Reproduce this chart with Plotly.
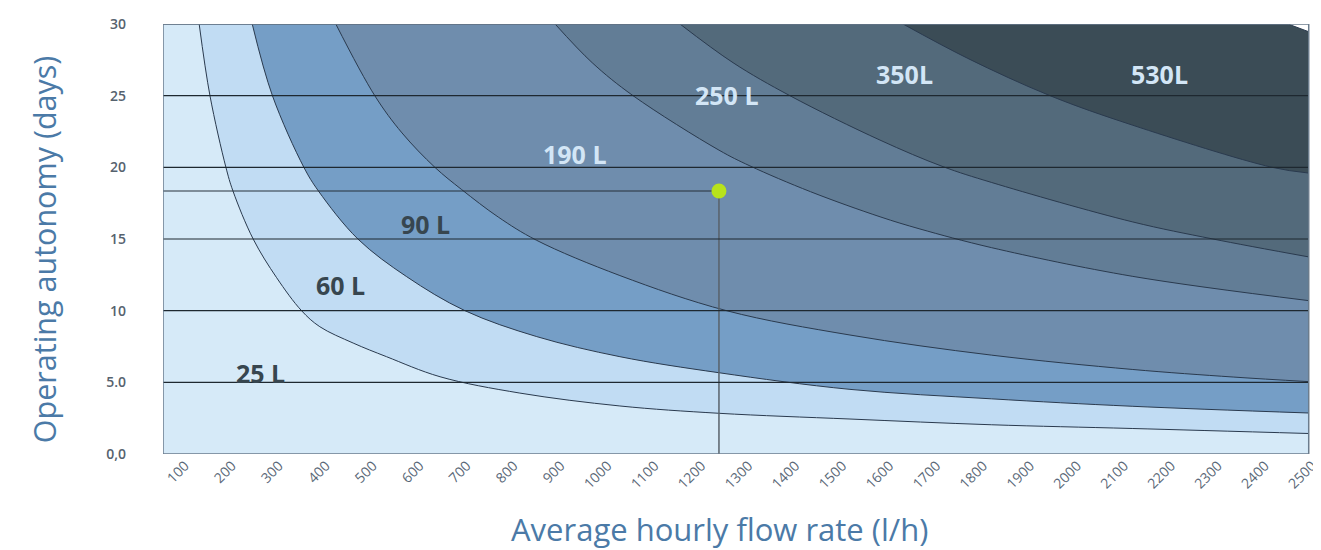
import plotly.graph_objects as go

# ---------------- data ----------------
X_MIN, X_END, X_AXIS_MAX = 36, 2476, 2500
Y_MAX = 30

x_ticks = [100, 200, 300, 400, 500, 600, 700, 800, 900, 1000, 1100, 1200, 1300,
           1400, 1500, 1600, 1700, 1800, 1900, 2000, 2100, 2200, 2300, 2400, 2500]
y_ticks = [0, 5, 10, 15, 20, 25, 30]
y_tick_text = ["0,0", "5.0", "10", "15", "20", "25", "30"]

flow_25 = [113, 136, 170, 185, 228, 278, 331, 370, 441, 512, 626, 796, 1009, 1220, 1499, 1800, 2100, 2476]
days_25 = [30, 25, 20, 18.35, 15, 12.3, 10, 8.88, 7.74, 6.79, 5.39, 4.25, 3.35, 2.84, 2.44, 2.04, 1.78, 1.43]

flow_60 = [226, 269, 336, 367, 451, 555, 679, 832, 1009, 1220, 1499, 1800, 2100, 2476]
days_60 = [30, 25, 20, 18.35, 15, 12.37, 10, 8.19, 6.79, 5.67, 4.51, 3.85, 3.33, 2.86]

flow_90 = [404, 487, 545, 615, 672, 750, 831, 1009, 1236, 1499, 1800, 2100, 2315, 2476]
days_90 = [30, 25, 22.4, 20, 18.45, 16.53, 14.92, 12.45, 10, 8.3, 6.9, 5.9, 5.37, 5.05]

flow_190 = [871, 950, 1037, 1220, 1286, 1415, 1563, 1648, 1800, 2100, 2476]
days_190 = [30, 27.3, 25, 21.2, 20.1, 18.3, 16.55, 15.7, 14.4, 12.4, 10.7]

flow_250 = [1137, 1250, 1371, 1563, 1697, 1800, 2100, 2272, 2476]
days_250 = [30, 27.3, 25, 21.9, 20.05, 18.95, 16.2, 15, 13.75]

flow_350 = [1612, 1750, 1925, 2100, 2398, 2476]
days_350 = [30, 27.6, 25, 22.95, 20, 19.6]

flow_530 = [2432, 2476]
days_530 = [30, 29.46]

point_flow = 1220
point_days = 18.35

labels = ["25 L", "60 L", "90 L", "190 L", "250 L", "350L", "530L"]
label_flow = [243, 413, 595, 913, 1238, 1615, 2159]
label_days = [5.65, 11.76, 16.07, 20.93, 25.05, 26.51, 26.51]
label_colors = ["#37464f", "#37464f", "#37464f", "#d3e6f6", "#d3e6f6", "#d3e6f6", "#d3e6f6"]

grid_values = [5, 10, 15, 20, 25]

# ---------------- styles ----------------
FONT = "Open Sans"
BODY_OFFSET = 8  # default page margin of the html body
curves = [
    (flow_530, days_530, "#3b4c56"),
    (flow_350, days_350, "#536a7b"),
    (flow_250, days_250, "#627d96"),
    (flow_190, days_190, "#6f8dad"),
    (flow_90, days_90, "#759ec6"),
    (flow_60, days_60, "#c1dcf3"),
    (flow_25, days_25, "#d6eaf8"),
]

fig = go.Figure()
for xs, ys, col in curves:
    # flat part along the top of the chart, then (after a gap) the curve itself
    fig.add_trace(go.Scatter(
        x=[X_MIN, xs[0], None] + xs, y=[Y_MAX, Y_MAX, None] + ys, mode="lines",
        line=dict(color="#2a3a4e", width=1, shape="spline", smoothing=1.0),
        fill="tozeroy", fillcolor=col, connectgaps=False,
        hoverinfo="skip", showlegend=False))

# reference lines to the point
fig.add_trace(go.Scatter(x=[X_MIN, point_flow], y=[point_days, point_days], mode="lines",
                         line=dict(color="#26303a", width=1.2), hoverinfo="skip", showlegend=False))
fig.add_trace(go.Scatter(x=[point_flow, point_flow], y=[point_days, 0], mode="lines",
                         line=dict(color="#59626b", width=1.5), hoverinfo="skip", showlegend=False))
fig.add_trace(go.Scatter(x=[point_flow], y=[point_days], mode="markers",
                         marker=dict(color="#b8e31b", size=15), hoverinfo="skip", showlegend=False))

shapes = []
for g in grid_values:
    shapes.append(dict(type="line", xref="x", yref="y", x0=X_MIN, x1=X_END, y0=g, y1=g,
                       line=dict(color="#1e2830", width=1.2), layer="above"))
shapes.append(dict(type="rect", xref="x", yref="y", x0=X_MIN, x1=X_END, y0=0, y1=Y_MAX,
                   line=dict(color="#6b7c8d", width=1.5), layer="above"))

annotations = []
for t, xv, yv, c in zip(labels, label_flow, label_days, label_colors):
    annotations.append(dict(x=xv, y=yv, xref="x", yref="y", text=t, showarrow=False,
                            font=dict(family=FONT, size=25, color=c, weight="bold"),
                            xanchor="center", yanchor="middle"))

annotations.append(dict(text="Average hourly flow rate (l/h)", xref="paper", yref="paper",
                        x=0.4806, y=-0.175, showarrow=False, xanchor="center", yanchor="middle",
                        font=dict(family=FONT, size=31, color="#4b7aa7")))
annotations.append(dict(text="Operating autonomy (days)", xref="paper", yref="paper",
                        x=-0.103, y=0.476, showarrow=False, xanchor="center", yanchor="middle",
                        textangle=-90, font=dict(family=FONT, size=30.5, color="#4b7aa7")))

fig.update_layout(
    width=1321 - BODY_OFFSET, height=550 - BODY_OFFSET,
    margin=dict(l=163 - BODY_OFFSET, r=1, t=24 - BODY_OFFSET, b=96),
    paper_bgcolor="white", plot_bgcolor="white",
    shapes=shapes, annotations=annotations,
    xaxis=dict(range=[X_MIN, X_AXIS_MAX], tickmode="array", tickvals=x_ticks,
               ticktext=[str(v) for v in x_ticks], tickangle=-45, showgrid=False,
               zeroline=False, showline=False, ticks="", automargin=False,
               ticklabeloverflow="allow", ticklabelshift=-8,
               tickfont=dict(family=FONT, size=14, color="#5a6877")),
    yaxis=dict(range=[0, Y_MAX], tickmode="array", tickvals=y_ticks, ticktext=y_tick_text,
               showgrid=False, zeroline=False, showline=False, ticks="", automargin=False,
               ticklabelstandoff=36,
               tickfont=dict(family=FONT, size=14, color="#56626e", weight=600)),
)

fig.write_html("out.html")
